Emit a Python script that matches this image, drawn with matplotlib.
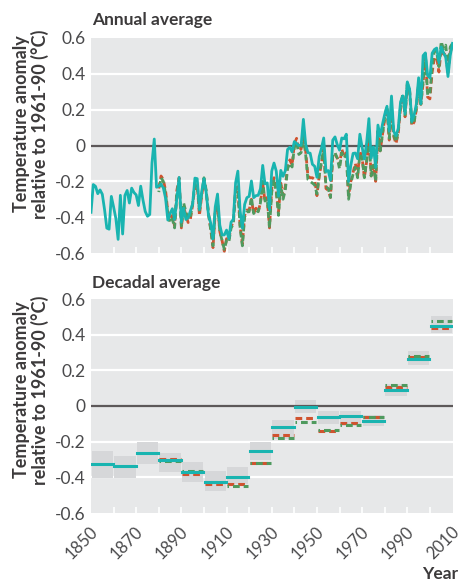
import matplotlib
matplotlib.use("Agg")
import matplotlib.pyplot as plt
import numpy as np

plt.rcParams['font.family'] = ['Lato', 'DejaVu Sans']

# ---------------- data ----------------
years_teal = list(range(1850, 2011))
teal_annual = [
    -0.373, -0.218, -0.228, -0.269, -0.248, -0.272, -0.358, -0.461, -0.467, -0.284,
    -0.343, -0.407, -0.524, -0.278, -0.494, -0.279, -0.251, -0.321, -0.238, -0.262,
    -0.276, -0.335, -0.227, -0.304, -0.368, -0.395, -0.385, -0.097, 0.036, -0.233,
    -0.226, -0.216, -0.236, -0.294, -0.416, -0.380, -0.353, -0.413, -0.297, -0.178,
    -0.428, -0.350, -0.413, -0.404, -0.365, -0.325, -0.182, -0.185, -0.357, -0.257,
    -0.185, -0.263, -0.388, -0.434, -0.522, -0.342, -0.271, -0.444, -0.499, -0.499,
    -0.472, -0.520, -0.428, -0.412, -0.208, -0.143, -0.365, -0.461, -0.329, -0.291,
    -0.284, -0.198, -0.291, -0.280, -0.278, -0.241, -0.111, -0.214, -0.209, -0.359,
    -0.143, -0.098, -0.143, -0.283, -0.139, -0.172, -0.141, -0.022, -0.010, -0.036,
    0.022, 0.011, 0.000, 0.002, 0.146, 0.008, -0.040, -0.043, -0.105, -0.116,
    -0.177, -0.062, -0.016, 0.042, -0.145, -0.140, -0.195, 0.030, 0.048, 0.004,
    -0.026, 0.042, 0.037, 0.063, -0.201, -0.110, -0.044, -0.042, -0.074, 0.063,
    -0.010, -0.075, 0.016, 0.150, -0.071, -0.008, -0.121, 0.114, 0.051, 0.118,
    0.174, 0.219, 0.080, 0.276, 0.078, 0.054, 0.096, 0.243, 0.277, 0.178,
    0.355, 0.316, 0.134, 0.170, 0.231, 0.378, 0.233, 0.502, 0.517, 0.391,
    0.377, 0.515, 0.536, 0.544, 0.462, 0.550, 0.518, 0.492, 0.385, 0.502,
    0.570,
]

years_other = list(range(1880, 2011))
red_annual = [
    -0.24, -0.17, -0.19, -0.25, -0.37, -0.41, -0.39, -0.45, -0.25, -0.18,
    -0.46, -0.34, -0.39, -0.43, -0.41, -0.33, -0.23, -0.22, -0.39, -0.28,
    -0.19, -0.26, -0.38, -0.47, -0.57, -0.37, -0.32, -0.48, -0.53, -0.59,
    -0.52, -0.53, -0.45, -0.43, -0.24, -0.23, -0.45, -0.55, -0.39, -0.36,
    -0.36, -0.30, -0.38, -0.35, -0.37, -0.32, -0.21, -0.31, -0.29, -0.46,
    -0.24, -0.18, -0.25, -0.37, -0.21, -0.28, -0.23, -0.12, -0.08, -0.11,
    0.01, 0.04, -0.03, -0.02, 0.06, -0.03, -0.17, -0.18, -0.18, -0.19,
    -0.28, -0.17, -0.10, -0.02, -0.24, -0.25, -0.29, -0.05, -0.05, -0.07,
    -0.11, -0.02, -0.06, -0.04, -0.28, -0.20, -0.15, -0.10, -0.17, -0.03,
    -0.07, -0.18, -0.09, 0.06, -0.17, -0.11, -0.20, 0.08, -0.03, 0.06,
    0.15, 0.21, 0.03, 0.20, 0.05, 0.01, 0.07, 0.21, 0.28, 0.16,
    0.34, 0.31, 0.11, 0.13, 0.20, 0.35, 0.23, 0.35, 0.51, 0.27,
    0.26, 0.41, 0.49, 0.49, 0.41, 0.54, 0.51, 0.52, 0.40, 0.52,
    0.56,
]
green_annual = [
    -0.26, -0.18, -0.20, -0.27, -0.38, -0.43, -0.41, -0.46, -0.27, -0.20,
    -0.45, -0.32, -0.37, -0.41, -0.40, -0.32, -0.21, -0.21, -0.37, -0.27,
    -0.18, -0.25, -0.38, -0.47, -0.56, -0.36, -0.32, -0.48, -0.53, -0.58,
    -0.53, -0.54, -0.46, -0.44, -0.25, -0.24, -0.46, -0.56, -0.40, -0.37,
    -0.37, -0.29, -0.38, -0.36, -0.37, -0.32, -0.20, -0.31, -0.30, -0.46,
    -0.26, -0.19, -0.26, -0.39, -0.22, -0.30, -0.25, -0.13, -0.10, -0.12,
    -0.01, 0.02, -0.05, -0.04, 0.05, -0.05, -0.19, -0.20, -0.21, -0.22,
    -0.27, -0.17, -0.09, -0.02, -0.23, -0.24, -0.29, -0.05, -0.04, -0.07,
    -0.13, -0.04, -0.07, -0.05, -0.30, -0.21, -0.16, -0.12, -0.18, -0.05,
    -0.07, -0.18, -0.09, 0.06, -0.17, -0.11, -0.20, 0.08, -0.03, 0.06,
    0.16, 0.22, 0.04, 0.21, 0.06, 0.02, 0.08, 0.22, 0.29, 0.17,
    0.35, 0.31, 0.12, 0.13, 0.21, 0.35, 0.23, 0.36, 0.51, 0.28,
    0.29, 0.44, 0.53, 0.52, 0.44, 0.58, 0.54, 0.56, 0.44, 0.55,
    0.57,
]

decades = [1850, 1860, 1870, 1880, 1890, 1900, 1910, 1920, 1930, 1940,
           1950, 1960, 1970, 1980, 1990, 2000]
teal_decadal = [-0.325, -0.338, -0.265, -0.303, -0.368, -0.424, -0.396, -0.252,
                -0.116, -0.007, -0.063, -0.056, -0.082, 0.088, 0.264, 0.450]
teal_low = [-0.405, -0.405, -0.327, -0.368, -0.428, -0.475, -0.440, -0.300,
            -0.187, -0.041, -0.100, -0.110, -0.110, 0.058, 0.230, 0.410]
teal_high = [-0.250, -0.280, -0.204, -0.265, -0.314, -0.365, -0.344, -0.200,
             -0.078, 0.034, -0.026, -0.026, -0.050, 0.123, 0.310, 0.505]
red_decadal = [None, None, None, -0.295, -0.380, -0.437, -0.440, -0.322,
               -0.165, -0.067, -0.142, -0.094, -0.062, 0.108, 0.275, 0.440]
green_decadal = [None, None, None, -0.310, -0.362, -0.428, -0.449, -0.322,
                 -0.180, -0.092, -0.137, -0.108, -0.062, 0.118, 0.280, 0.477]

yticks = [-0.6, -0.4, -0.2, 0, 0.2, 0.4, 0.6]
ytick_labels = ['-0.6', '-0.4', '-0.2', '0', '0.2', '0.4', '0.6']
xlabel_years = [1850, 1870, 1890, 1910, 1930, 1950, 1970, 1990, 2010]

# ---------------- style ----------------
TEAL = '#19B4B0'
RED = '#D0532F'
GREEN = '#4F9A5E'
BG = '#E7E8E9'
BOX = '#D6D7D9'
ZERO = '#5D5859'
TXT = '#4A4A4C'
DARK = '#3C3A3B'

fig = plt.figure(figsize=(4.61, 5.83), dpi=100)
ax1 = fig.add_axes([91 / 461, 1 - 253 / 583, 361.5 / 461, 215 / 583])
ax2 = fig.add_axes([91 / 461, 1 - 513 / 583, 361.5 / 461, 214 / 583])


def style(ax):
    ax.set_facecolor(BG)
    ax.set_xlim(1850, 2010)
    ax.set_ylim(-0.6, 0.6)
    for s in ax.spines.values():
        s.set_visible(False)
    for y in yticks:
        if y == 0:
            ax.axhline(y, color=ZERO, lw=1.6, zorder=2)
        elif abs(y) < 0.59:
            ax.axhline(y, color='white', lw=1.6, zorder=1)
    ax.set_yticks(yticks)
    ax.set_yticklabels(ytick_labels, fontsize=12.5, color=TXT)
    ax.tick_params(axis='y', length=0, pad=4)
    ax.set_xticks(range(1860, 2010, 10))
    ax.tick_params(axis='x', direction='in', length=4, width=1.2, color='white',
                   labelbottom=False)


style(ax1)
style(ax2)

# annual
ax1.plot(years_other, red_annual, color=RED, lw=2.0, ls=(0, (2.2, 1.3)), zorder=3)
ax1.plot(years_other, green_annual, color=GREEN, lw=2.0, ls=(1.7, (2.2, 1.3)), zorder=3)
ax1.plot(years_teal, teal_annual, color=TEAL, lw=2.0, zorder=4, solid_joinstyle='round')

# decadal
for i, d in enumerate(decades):
    x0, x1 = d + 0.3, d + 9.7
    ax2.fill_between([x0, x1], teal_low[i], teal_high[i], color=BOX, lw=0, zorder=1.5)
for i, d in enumerate(decades):
    x0, x1 = d + 0.3, d + 9.7
    if red_decadal[i] is not None:
        ax2.plot([x0, x1], [red_decadal[i]] * 2, color=RED, lw=2.2,
                 ls=(0, (2.2, 1.3)), zorder=3, solid_capstyle='butt')
        ax2.plot([x0, x1], [green_decadal[i]] * 2, color=GREEN, lw=2.2,
                 ls=(1.7, (2.2, 1.3)), zorder=3)
    ax2.plot([x0, x1], [teal_decadal[i]] * 2, color=TEAL, lw=2.2, zorder=4)

for y in xlabel_years:
    ax2.text(y - 0.6, -0.66, str(y), rotation=45, ha='right', va='top',
             rotation_mode='anchor', fontsize=12, color=TXT,
             transform=ax2.transData, clip_on=False)

# titles and labels
fig.text(92 / 461, 1 - 20 / 583, 'Annual average', fontsize=12.5, fontweight='bold',
         color=DARK, ha='left', va='center')
fig.text(92 / 461, 1 - 283 / 583, 'Decadal average', fontsize=12.5, fontweight='bold',
         color=DARK, ha='left', va='center')
ylab = 'Temperature anomaly\nrelative to 1961-90 (°C)'
for ax_c in [(1 - 124 / 583), (1 - 390 / 583)]:
    fig.text(31 / 461, ax_c, ylab, rotation=90, ha='center', va='center',
             fontsize=13, fontweight='bold', color=DARK, multialignment='center',
             linespacing=1.05)
fig.text(458 / 461, 1 - 574 / 583, 'Year', fontsize=12.5, fontweight='bold',
         color=DARK, ha='right', va='center')

fig.savefig('out.png', dpi=100, facecolor='white')
